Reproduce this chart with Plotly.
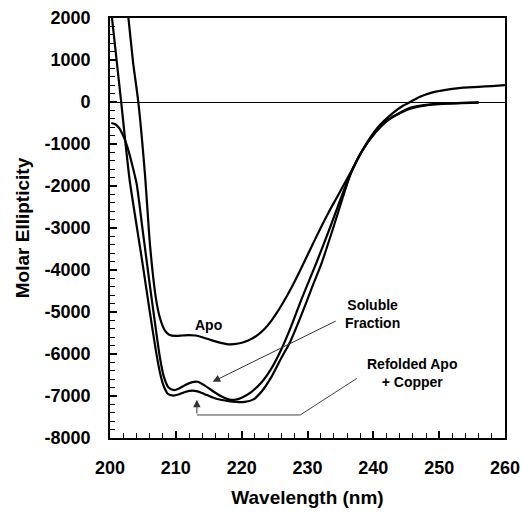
import plotly.graph_objects as go

# ---- data ----
apo_x = [202.3, 202.8, 203.5, 204.3, 205.3, 206.1, 207.0, 207.6, 208.3, 209.0, 210.0, 211.0, 212.0, 213.0,
         214.0, 215.0, 216.0, 217.0, 218.2, 219.5, 220.5, 221.5, 222.5, 223.5, 224.5, 225.5, 226.5, 227.5,
         228.5, 229.5, 230.5, 231.9, 233.2, 234.5, 236.5, 238.4, 240.6, 243.0, 244.5, 245.6, 247.0, 249.0,
         251.0, 253.0, 256.0, 258.0, 260.0]
apo_y = [2600, 2000, 950, 0, -1700, -3450, -4700, -5150, -5430, -5540, -5570, -5560, -5550, -5560,
         -5600, -5650, -5700, -5740, -5770, -5750, -5710, -5640, -5540, -5400, -5210, -4980, -4720, -4440,
         -4130, -3810, -3480, -3030, -2630, -2260, -1690, -1130, -620, -260, -90, 0, 120, 230,
         290, 330, 360, 380, 400]

soluble_x = [200.2, 200.8, 201.4, 202.0, 202.6, 203.3, 204.05, 205.0, 206.0, 207.0, 207.6, 208.2, 208.9,
             209.7, 210.5, 211.5, 212.5, 213.3, 214.3, 215.5, 216.8, 218.0, 219.0, 220.0, 221.5, 223.0,
             224.5, 226.0, 227.5, 229.2, 231.4, 233.4, 235.0, 236.5, 238.3, 240.3, 242.0, 243.5, 245.6,
             248.0, 251.0, 253.5, 256.0]
soluble_y = [-500, -530, -620, -800, -1050, -1450, -1950, -3100, -4300, -5450, -6100, -6550, -6800,
             -6860, -6820, -6730, -6670, -6660, -6740, -6870, -7000, -7080, -7090, -7040, -6900, -6680,
             -6350, -5900, -5350, -4650, -3810, -3000, -2320, -1720, -1160, -730, -460, -310, -160,
             -80, -40, -25, -15]

refolded_x = [200.0, 200.3, 201.0, 201.7, 202.4, 203.0, 204.0, 205.0, 206.0, 207.0, 207.6, 208.2, 208.8,
              209.6, 210.5, 211.5, 212.5, 213.3, 214.3, 215.5, 216.8, 218.0, 219.2, 220.5, 221.8, 223.0,
              224.5, 226.0, 227.4, 229.0, 230.6, 232.2, 233.9, 235.3, 236.6, 238.4, 240.3, 242.0, 243.5,
              245.6, 248.0, 251.0, 253.5, 256.0]
refolded_y = [2450, 2000, 1000, 0, -1050, -1880, -2900, -3900, -4950, -5950, -6450, -6780, -6950,
              -6990, -6960, -6900, -6870, -6890, -6950, -7030, -7090, -7120, -7140, -7140, -7080, -6900,
              -6550, -6100, -5700, -5100, -4450, -3810, -3000, -2300, -1700, -1140, -720, -450, -300,
              -140, -70, -35, -20, -10]

# annotation anchor points (data coordinates)
apo_label = (214.9, -5310)
soluble_label = (239.8, -5036)
refolded_label = (245.9, -6452)
soluble_arrow_tail = (234.5, -5200)
soluble_arrow_tip = (215.6, -6660)
refolded_path_x = [237.5, 228.9, 213.2]
refolded_path_y = [-6580, -7452, -7452]
refolded_arrow_tip = (213.2, -7090)

x_ticks = [200, 210, 220, 230, 240, 250, 260]
y_ticks = [2000, 1000, 0, -1000, -2000, -3000, -4000, -5000, -6000, -7000, -8000]

FONT = "Liberation Sans, Arial, Helvetica, sans-serif"

fig = go.Figure()
for xs, ys in [(apo_x, apo_y), (soluble_x, soluble_y), (refolded_x, refolded_y)]:
    fig.add_trace(go.Scatter(x=xs, y=ys, mode="lines",
                             line=dict(color="black", width=2.2, shape="spline", smoothing=0.6),
                             showlegend=False, hoverinfo="skip"))

# refolded pointer polyline
fig.add_trace(go.Scatter(x=refolded_path_x, y=refolded_path_y, mode="lines",
                         line=dict(color="#444444", width=1), showlegend=False, hoverinfo="skip"))

ann_font = dict(family=FONT, size=14, color="black", weight="bold")
fig.add_annotation(x=apo_label[0], y=apo_label[1], text="Apo", showarrow=False, font=ann_font)
fig.add_annotation(x=soluble_label[0], y=soluble_label[1], text="Soluble<br>Fraction",
                   showarrow=False, font=ann_font, align="center")
fig.add_annotation(x=refolded_label[0], y=refolded_label[1], text="Refolded Apo<br>+ Copper",
                   showarrow=False, font=ann_font, align="center")
fig.add_annotation(x=soluble_arrow_tip[0], y=soluble_arrow_tip[1], ax=soluble_arrow_tail[0],
                   ay=soluble_arrow_tail[1], axref="x", ayref="y", xref="x", yref="y", text="",
                   showarrow=True, arrowhead=2, arrowsize=1.5, arrowwidth=1, arrowcolor="#333333")
fig.add_annotation(x=refolded_arrow_tip[0], y=refolded_arrow_tip[1], ax=refolded_path_x[-1],
                   ay=refolded_path_y[-1], axref="x", ayref="y", xref="x", yref="y", text="",
                   showarrow=True, arrowhead=2, arrowsize=1.5, arrowwidth=1, arrowcolor="#333333")

tick_font = dict(family=FONT, size=18, color="black", weight="bold")
title_font = dict(family=FONT, size=19, color="black", weight="bold")

fig.update_xaxes(range=[200, 260], tickmode="array", tickvals=x_ticks,
                 ticktext=[str(v) for v in x_ticks],
                 ticks="inside", ticklen=7, tickwidth=1.5, tickcolor="black",
                 minor=dict(tickmode="linear", tick0=200, dtick=2, ticks="inside", ticklen=5,
                            tickcolor="black", tickwidth=1.2, showgrid=False),
                 showline=True, linecolor="black", linewidth=1.8, mirror=True, automargin=False,
                 showgrid=False, zeroline=False, tickfont=tick_font, ticklabelstandoff=12,
                 title=dict(text="Wavelength (nm)", font=title_font, standoff=14))
fig.update_yaxes(range=[-8000, 2000], tickmode="array", tickvals=y_ticks,
                 ticktext=[str(v) for v in y_ticks],
                 ticks="inside", ticklen=7, tickwidth=1.5, tickcolor="black",
                 minor=dict(tickmode="linear", tick0=0, dtick=200, ticks="inside", ticklen=5,
                            tickcolor="black", tickwidth=1.2, showgrid=False),
                 showline=True, linecolor="black", linewidth=1.8, mirror=True, automargin=False,
                 showgrid=False, zeroline=True, zerolinecolor="black", zerolinewidth=1,
                 tickfont=tick_font, ticklabelstandoff=14,
                 title=dict(text="Molar Ellipticity", font=title_font, standoff=10))

fig.update_layout(width=522, height=515, autosize=False,
                  margin=dict(l=110, r=17, t=18, b=77),
                  paper_bgcolor="white", plot_bgcolor="white",
                  font=dict(family=FONT))

fig.write_html("out.html")
